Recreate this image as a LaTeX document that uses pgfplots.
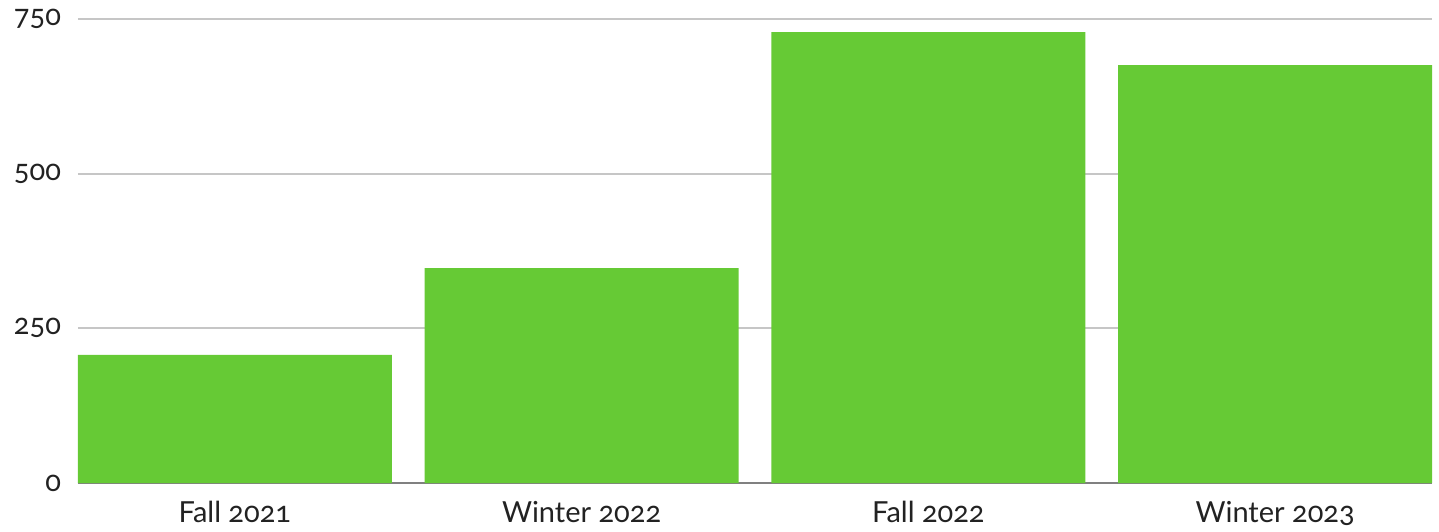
\documentclass[border=0pt]{standalone}
\usepackage{fontspec}
\setmainfont{Lato}[Numbers=OldStyle]
\usepackage{pgfplots}
\pgfplotsset{compat=1.18}
\definecolor{barg}{HTML}{66CA35}
\definecolor{gridg}{HTML}{C6C6C6}
\definecolor{baseg}{HTML}{808080}
\definecolor{txt}{HTML}{222222}
\begin{document}
\begin{tikzpicture}
\begin{axis}[
  at={(0,0)}, anchor=south west,
  scale only axis,
  width=677pt, height=232pt,
  xmin=-0.4524, xmax=3.4524, ymin=0, ymax=750,
  ybar, bar width=157pt, bar shift=0pt,
  xtick={0,1,2,3},
  xticklabels={Fall 2021,Winter 2022,Fall 2022,Winter 2023},
  ytick={0,250,500,750},
  ymajorgrids, grid style={gridg, line width=1pt},
  axis lines*=left,
  y axis line style={draw=none},
  x axis line style={baseg, line width=1.2pt},
  major tick length=0pt,
  tick style={draw=none},
  /pgf/number format/assume math mode=true,
  ticklabel style={font=\fontsize{14.5}{16}\selectfont, text=txt},
  yticklabel style={xshift=-5pt},
  xticklabel style={yshift=-5.5pt},
  axis on top=false,
]
\addplot[fill=barg, draw=none] coordinates {(0,207) (1,347.5) (2,729) (3,675.5)};
\end{axis}
\pgfresetboundingbox
\path (-39pt,-24pt) rectangle (680.5pt,241.5pt);
\end{tikzpicture}
\end{document}
